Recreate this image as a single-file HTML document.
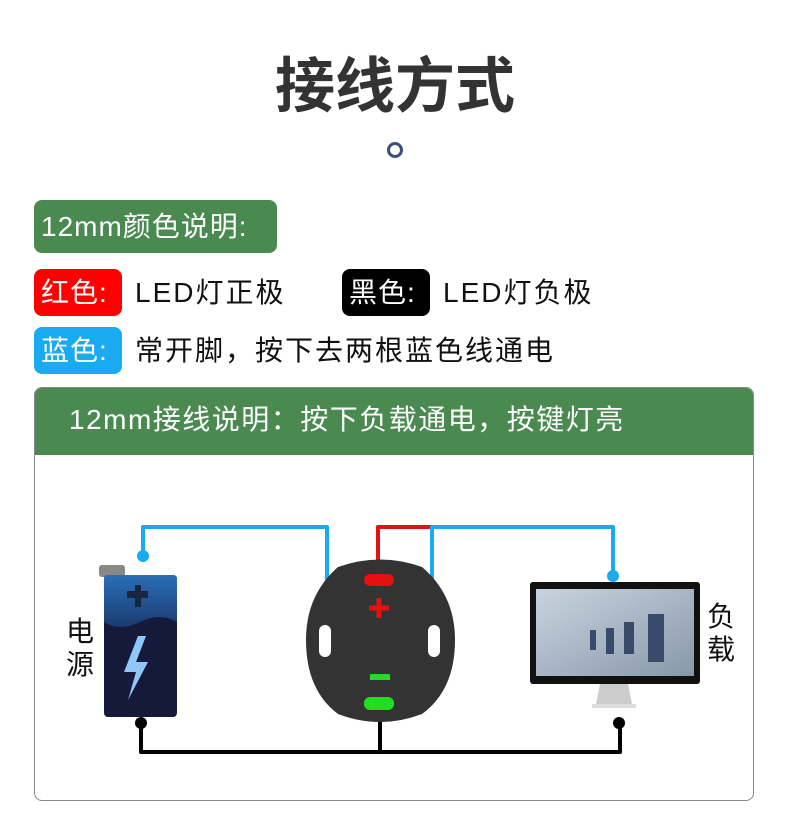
<!DOCTYPE html>
<html><head><meta charset="utf-8"><style>
body{margin:0;width:790px;height:819px;background:#fff;position:relative;overflow:hidden;font-family:"Liberation Sans","Noto Sans CJK SC",sans-serif;}
.a{position:absolute;}
.tag{position:absolute;color:#fff;font-size:28px;line-height:47px;border-radius:8px;padding-left:7px;box-sizing:border-box;letter-spacing:1px;white-space:nowrap;}
.t{position:absolute;font-size:28px;line-height:47px;color:#111;letter-spacing:2px;white-space:nowrap;}
</style></head><body>
<div class="a" style="left:0;width:790px;top:50px;text-align:center;font-size:60px;font-weight:bold;color:#333;line-height:74px;">接线方式</div>
<div class="a" style="left:387px;top:142px;width:10px;height:10px;border:3px solid #3d4d7c;border-radius:50%;"></div>
<div class="tag" style="left:34px;top:200px;width:243px;height:53px;line-height:53px;background:#4a8a50;">12mm颜色说明:</div>
<div class="tag" style="left:34px;top:269px;width:88px;height:47px;background:#f00;">红色:</div>
<div class="t" style="left:135px;top:269px;">LED灯正极</div>
<div class="tag" style="left:342px;top:269px;width:88px;height:47px;background:#000;">黑色:</div>
<div class="t" style="left:443px;top:269px;">LED灯负极</div>
<div class="tag" style="left:34px;top:327px;width:88px;height:47px;background:#1aaaf0;">蓝色:</div>
<div class="t" style="left:135px;top:327px;">常开脚，按下去两根蓝色线通电</div>
<div class="a" style="left:34px;top:387px;width:718px;height:412px;border:1px solid #888;border-radius:8px;overflow:hidden;">
<div style="height:67px;background:#4a8a50;color:#fff;font-size:28px;line-height:64px;padding-left:34px;letter-spacing:1.5px;white-space:nowrap;">12mm接线说明：按下负载通电，按键灯亮</div>
</div>
<svg class="a" style="left:0;top:0" width="790" height="819">
<defs><linearGradient id="bt" x1="0" y1="0" x2="0" y2="1"><stop offset="0" stop-color="#2a6fb8"/><stop offset="1" stop-color="#1a3a70"/></linearGradient>
<linearGradient id="sc" x1="0" y1="0" x2="1" y2="1"><stop offset="0" stop-color="#c8d4e0"/><stop offset="1" stop-color="#8898a8"/></linearGradient></defs>
<g fill="none" stroke-width="4" stroke-linejoin="round">
<path d="M143 557V527H327V620" stroke="#1aaaf0"/>
<path d="M378 590V527H432" stroke="#e51010"/>
<path d="M432 620V527H613V577" stroke="#1aaaf0"/>
<path d="M141 724V752H620V724M380 716V752" stroke="#000"/>
</g>
<circle cx="143" cy="556" r="6" fill="#1aaaf0"/><circle cx="613" cy="576" r="6" fill="#1aaaf0"/>
<circle cx="141" cy="723" r="6" fill="#000"/><circle cx="619" cy="723" r="6" fill="#000"/>
<rect x="99" y="565" width="26" height="12" rx="3" fill="#888"/>
<rect x="104" y="575" width="73" height="142" rx="4" fill="#151a3a"/>
<path d="M104 579Q104 575 108 575H173Q177 575 177 579V622Q160 612 140 622Q120 632 104 622Z" fill="url(#bt)"/>
<path d="M127 591h8v-6h6v6h7v7h-7v9h-6v-9h-8z" fill="#1a2540"/>
<path d="M138 636L124 672h12l-8 28 20-38h-12l10-26z" fill="#8ec8f8"/>
<path d="M338 567Q380 552 422 567Q455 595 455 640Q455 690 422 714Q380 730 338 714Q306 690 306 640Q306 595 338 567Z" fill="#333"/>
<rect x="319" y="625" width="12" height="32" rx="6" fill="#fff"/><rect x="428" y="625" width="12" height="32" rx="6" fill="#fff"/>
<rect x="364" y="574" width="30" height="12" rx="6" fill="#e51010"/>
<path d="M369 608h20M379 598v20" stroke="#e51010" stroke-width="5"/>
<rect x="370" y="674" width="20" height="6" fill="#22dd22"/>
<rect x="364" y="697" width="30" height="13" rx="6" fill="#22dd22"/>
<rect x="530" y="582" width="170" height="102" rx="3" fill="#111"/>
<rect x="536" y="589" width="158" height="87" fill="url(#sc)"/>
<g fill="#3a4a6a"><rect x="590" y="630" width="6" height="20"/><rect x="606" y="628" width="8" height="26"/><rect x="624" y="622" width="10" height="32"/><rect x="648" y="614" width="16" height="48"/></g>
<path d="M600 684h28l4 20h-36z" fill="#ccc"/><rect x="592" y="704" width="44" height="4" fill="#ddd"/>
</svg>
<div class="a" style="left:66px;top:615px;font-size:28px;line-height:33px;width:30px;color:#111;">电<br>源</div>
<div class="a" style="left:707px;top:600px;font-size:28px;line-height:33px;width:30px;color:#111;">负<br>载</div>
</body></html>
